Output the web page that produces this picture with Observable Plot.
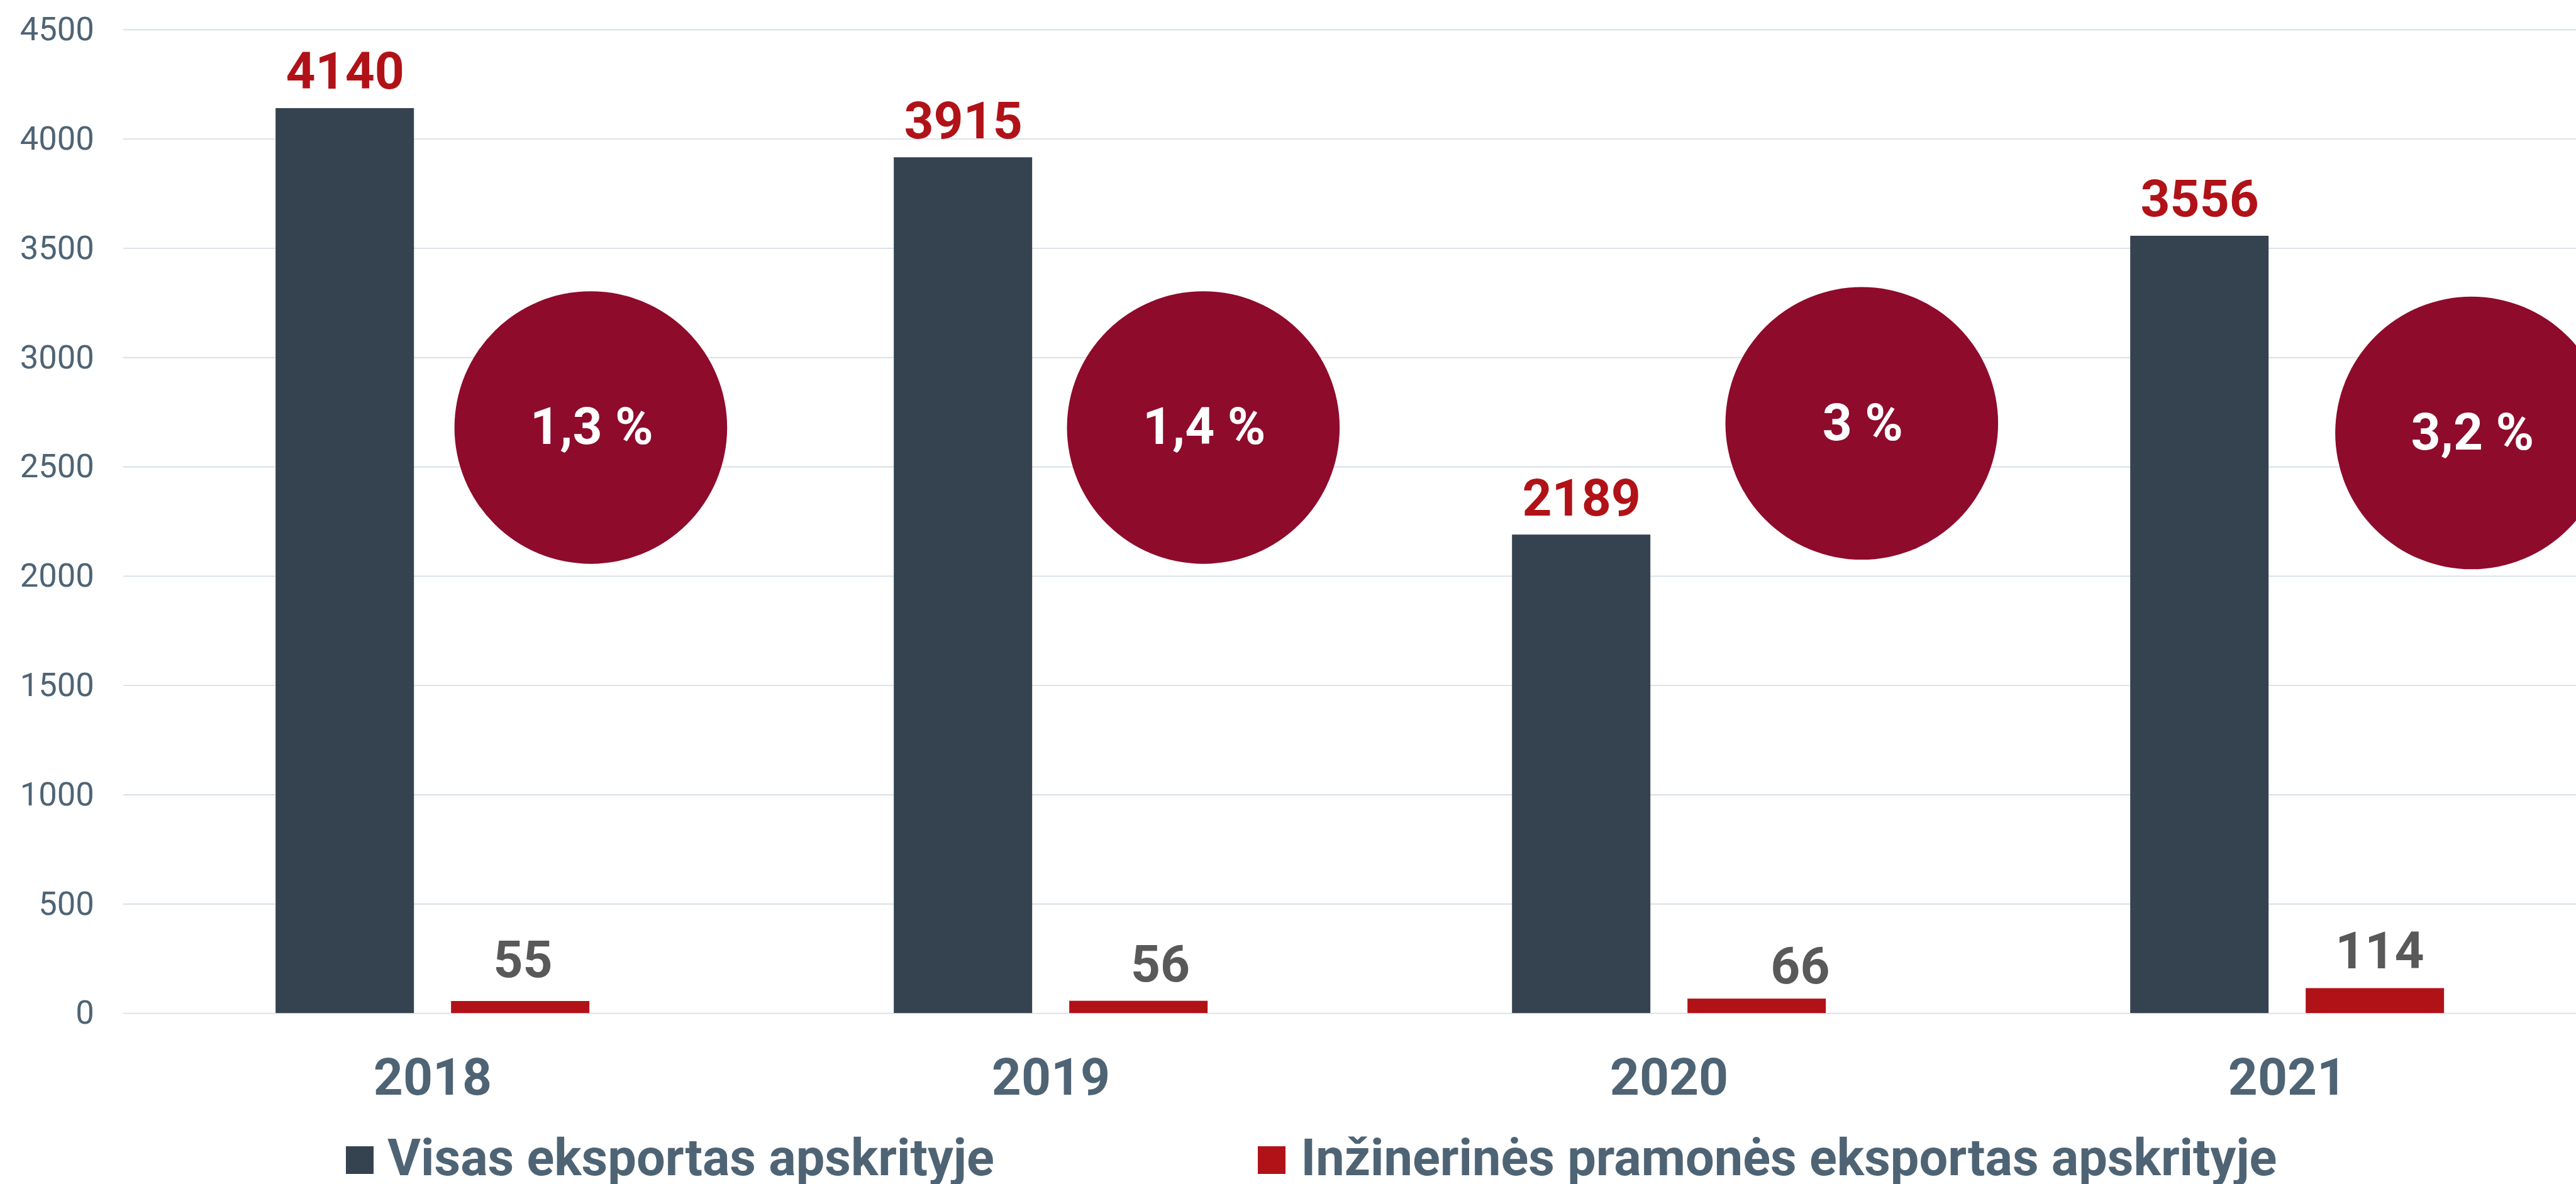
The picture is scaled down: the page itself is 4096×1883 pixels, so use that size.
<!DOCTYPE html>
<html><head><meta charset="utf-8">
<script src="https://cdn.jsdelivr.net/npm/d3@7"></script>
<script src="https://cdn.jsdelivr.net/npm/@observablehq/plot@0.6"></script>
<style>
html,body{margin:0;padding:0;background:#fff;overflow:hidden;}
#wrap{position:relative;width:4096px;height:1883px;font-family:Roboto, sans-serif;}
#legend{position:relative;width:4096px;height:103px;}
.sw{position:absolute;}
.lab{position:absolute;white-space:nowrap;font-weight:700;color:#4E6475;}
</style></head><body>
<div id="wrap"><div id="chart"></div><div id="legend"></div></div>
<script>
const years = ["2018", "2019", "2020", "2021"];
const totalExport = [4140, 3915, 2189, 3556];
const engExport = [55, 56, 66, 114];
const shareLabels = ["1,3 %", "1,4 %", "3 %", "3,2 %"];
const seriesNames = ["Visas eksportas apskrityje", "Inžinerinės pramonės eksportas apskrityje"];
const yTicks = [0, 500, 1000, 1500, 2000, 2500, 3000, 3500, 4000, 4500];

const seriesColors = ["#35424F", "#B01218"];
const S = 0.955;

const rows = years.flatMap((year, i) => [
  {year, series: seriesNames[0], value: totalExport[i]},
  {year, series: seriesNames[1], value: engExport[i]}
]);
const totals = rows.filter(d => d.series === seriesNames[0]);
const engs = rows.filter(d => d.series === seriesNames[1]);
const shares = years.map((year, i) => ({year, series: seriesNames[1], label: shareLabels[i]}));

// hand-placed annotation nudges (reference px): [dx, dy]
const circleNudge = {"2018": [117, 0], "2019": [107.5, 0], "2020": [174.5, -7], "2021": [160.5, 9]};
const engLabelNudge = {"2018": [4, -7], "2019": [36, 0], "2020": [72, 7], "2021": [7.5, 0]};
const circleLevel = 2680;

const W = 4096, H = 1780;
const marginLeft = 204 * S, marginTop = 49 * S, plotBottom = 1687 * S;
const band = 1030 * S;
const marginRight = W - (marginLeft + 4 * band);
const labelFont = 86 * S;

const marks = [
  Plot.gridY(yTicks, {stroke: "#D8DFE6", strokeOpacity: 1, strokeWidth: 2 * S}),
  Plot.barY(rows, {fx: "year", x: "series", y: "value", fill: "series"}),
  Plot.text(totals, {fx: "year", x: "series", y: "value", text: d => String(d.value),
    lineAnchor: "bottom", dy: -32.5 * S, fill: "#B01218", fontSize: labelFont, fontWeight: 700}),
  ...years.map(year => Plot.text(engs.filter(d => d.year === year), {
    fx: "year", x: "series", y: "value", text: d => String(d.value),
    lineAnchor: "bottom", dx: engLabelNudge[year][0] * S, dy: (-33 + engLabelNudge[year][1]) * S,
    fill: "#595959", fontSize: labelFont, fontWeight: 700})),
  ...years.map(year => Plot.dot(shares.filter(d => d.year === year), {
    fx: "year", x: "series", y: () => circleLevel, r: 227 * S, fill: "#8E0B2B",
    dx: circleNudge[year][0] * S, dy: circleNudge[year][1] * S})),
  ...years.map(year => Plot.text(shares.filter(d => d.year === year), {
    fx: "year", x: "series", y: () => circleLevel, text: "label", fill: "white",
    fontSize: labelFont, fontWeight: 700, lineAnchor: "middle",
    dx: circleNudge[year][0] * S + 1.5 * S, dy: circleNudge[year][1] * S})),
  Plot.axisY(yTicks, {tickSize: 0, tickPadding: 49 * S, fontSize: 55 * S, fill: "#4E6475",
    label: null, tickFormat: d => String(d)}),
  Plot.axisFx({anchor: "bottom", tickSize: 0, tickPadding: 1682.5 - plotBottom, fontSize: labelFont,
    fontWeight: 700, fill: "#4E6475", label: null})
];

const plot = Plot.plot({
  width: W,
  height: H,
  marginLeft, marginTop, marginRight, marginBottom: H - plotBottom,
  style: {fontFamily: "Roboto, sans-serif", background: "white", color: "#4E6475"},
  fx: {domain: years, padding: 0, label: null},
  x: {domain: seriesNames, axis: null, paddingInner: 0.2116, paddingOuter: 0.8635},
  y: {domain: [0, 4500], label: null},
  color: {domain: seriesNames, range: seriesColors},
  marks
});
document.getElementById("chart").appendChild(plot);

// legend below the chart
const legend = document.getElementById("legend");
const legendItems = [
  {swatchLeft: 576, textLeft: 645},
  {swatchLeft: 2094, textLeft: 2166}
];
seriesNames.forEach((name, i) => {
  const sw = document.createElement("div");
  sw.className = "sw";
  sw.style.left = legendItems[i].swatchLeft * S + "px";
  sw.style.top = (1908.7 * S - H) + "px";
  sw.style.width = 46.5 * S + "px";
  sw.style.height = 46.5 * S + "px";
  sw.style.background = seriesColors[i];
  legend.appendChild(sw);
  const lab = document.createElement("div");
  lab.className = "lab";
  const fs = 85 * S;
  lab.style.fontSize = fs + "px";
  lab.style.lineHeight = fs + "px";
  lab.style.left = legendItems[i].textLeft * S + "px";
  lab.style.top = (1957.3 * S - H - (fs - 1.172 * fs) / 2 - 0.928 * fs) + "px";
  lab.textContent = name;
  legend.appendChild(lab);
});
</script>
</body></html>
